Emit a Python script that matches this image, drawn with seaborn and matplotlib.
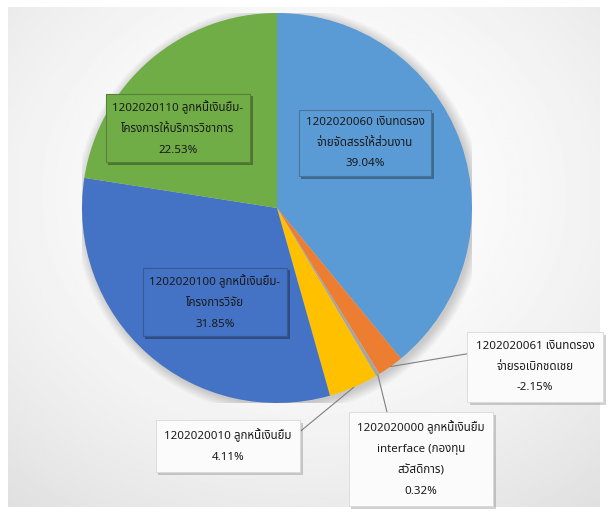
import numpy as np
import matplotlib
matplotlib.use("Agg")
import matplotlib.pyplot as plt
import matplotlib.patheffects as pe
from matplotlib import font_manager, ft2font
import seaborn as sns

# data (percent of total, clockwise from 12 o'clock)
accounts = ["1202020060 เงินทดรอง\nจ่ายจัดสรรให้ส่วนงาน",
            "1202020061 เงินทดรอง\nจ่ายรอเบิกชดเชย",
            "1202020000 ลูกหนี้เงินยืม\ninterface (กองทุน\nสวัสดิการ)",
            "1202020010 ลูกหนี้เงินยืม",
            "1202020100 ลูกหนี้เงินยืม-\nโครงการวิจัย",
            "1202020110 ลูกหนี้เงินยืม-\nโครงการให้บริการวิชาการ"]
shares = [39.04, -2.15, 0.32, 4.11, 31.85, 22.53]
colors = ["#5B9BD5", "#ED7D31", "#A5A5A5", "#FFC000", "#4472C4", "#70AD47"]

sns.set_style("white")


def find_thai_font():
    found = []
    for f in font_manager.fontManager.ttflist:
        try:
            if ord("ก") in ft2font.FT2Font(f.fname).get_charmap():
                found.append(f.name)
        except Exception:
            pass
    for pref in ["Tahoma", "Noto Sans Thai", "Noto Sans Thai UI", "Loma", "Garuda", "Sarabun"]:
        if pref in found:
            return pref
    return found[0] if found else "DejaVu Sans"


thai = find_thai_font()
plt.rcParams["font.family"] = [thai, "DejaVu Sans"]

W, H = 607, 514
fig = plt.figure(figsize=(W / 100, H / 100), dpi=100)

# light radial gradient panel behind the chart
bg = fig.add_axes([8 / W, 7 / H, 592 / W, 500 / H])
yy, xx = np.mgrid[-1:1:300j, -1:1:300j]
rr = np.sqrt(xx ** 2 + (yy + 0.25) ** 2) / 1.5
bg.imshow(1 - 0.11 * rr ** 1.8, cmap="gray", vmin=0, vmax=1, aspect="auto")
bg.axis("off")

# pie axes: center (277, 208) px, radius 195 px
cx, cy, R = 277, 208, 195
ax = fig.add_axes([(cx - R) / W, (H - cy - R) / H, 2 * R / W, 2 * R / H])

for k in range(8):
    ax.add_patch(plt.Circle((0.012, -0.012), 1 + k * 0.007, color="black",
                            alpha=0.025, lw=0, zorder=0))

wedges, _ = ax.pie(np.abs(shares), colors=colors, startangle=90, counterclock=False,
                   radius=1, wedgeprops=dict(linewidth=0))
ax.set_xlim(-1, 1)
ax.set_ylim(-1, 1)
ax.axis("off")

# label box layout (pixel centers) and leader anchor on the box
label_px = [(365, 143), (535, 367), (421, 459), (228, 446), (215, 302), (178, 128)]
inside = [True, False, False, False, True, True]
relpos = [None, (0.0, 0.78), (0.25, 1.0), (1.0, 0.72), None, None]
text_kw = dict(ha="center", va="center", fontsize=8.3,
               linespacing=2.2, color="#1A1A1A", zorder=5)

for i, w in enumerate(wedges):
    txt = f"{accounts[i]}\n{shares[i]:.2f}%"
    lx = (label_px[i][0] - cx) / R
    ly = (cy - label_px[i][1]) / R
    if inside[i]:
        edge = sns.dark_palette(colors[i], 4)[2]
        box = dict(boxstyle="square,pad=0.6", fc=colors[i], ec=edge, lw=0.8)
        t = ax.text(lx, ly, txt, bbox=box, **text_kw)
        t.get_bbox_patch().set_path_effects(
            [pe.SimplePatchShadow(offset=(2, -2), alpha=0.45), pe.Normal()])
    else:
        ang = np.deg2rad((w.theta1 + w.theta2) / 2)
        box = dict(boxstyle="square,pad=0.75", fc="#FBFBFB", ec="#D9D9D9", lw=0.6)
        t = ax.annotate(txt, xy=(np.cos(ang), np.sin(ang)), xytext=(lx, ly),
                        bbox=box, annotation_clip=False,
                        arrowprops=dict(arrowstyle="-", color="#808080", lw=0.8,
                                        relpos=relpos[i], shrinkA=0, shrinkB=0),
                        **text_kw)
        t.get_bbox_patch().set_path_effects(
            [pe.SimplePatchShadow(offset=(2, -2), alpha=0.25), pe.Normal()])

fig.savefig("out.png", dpi=100)
